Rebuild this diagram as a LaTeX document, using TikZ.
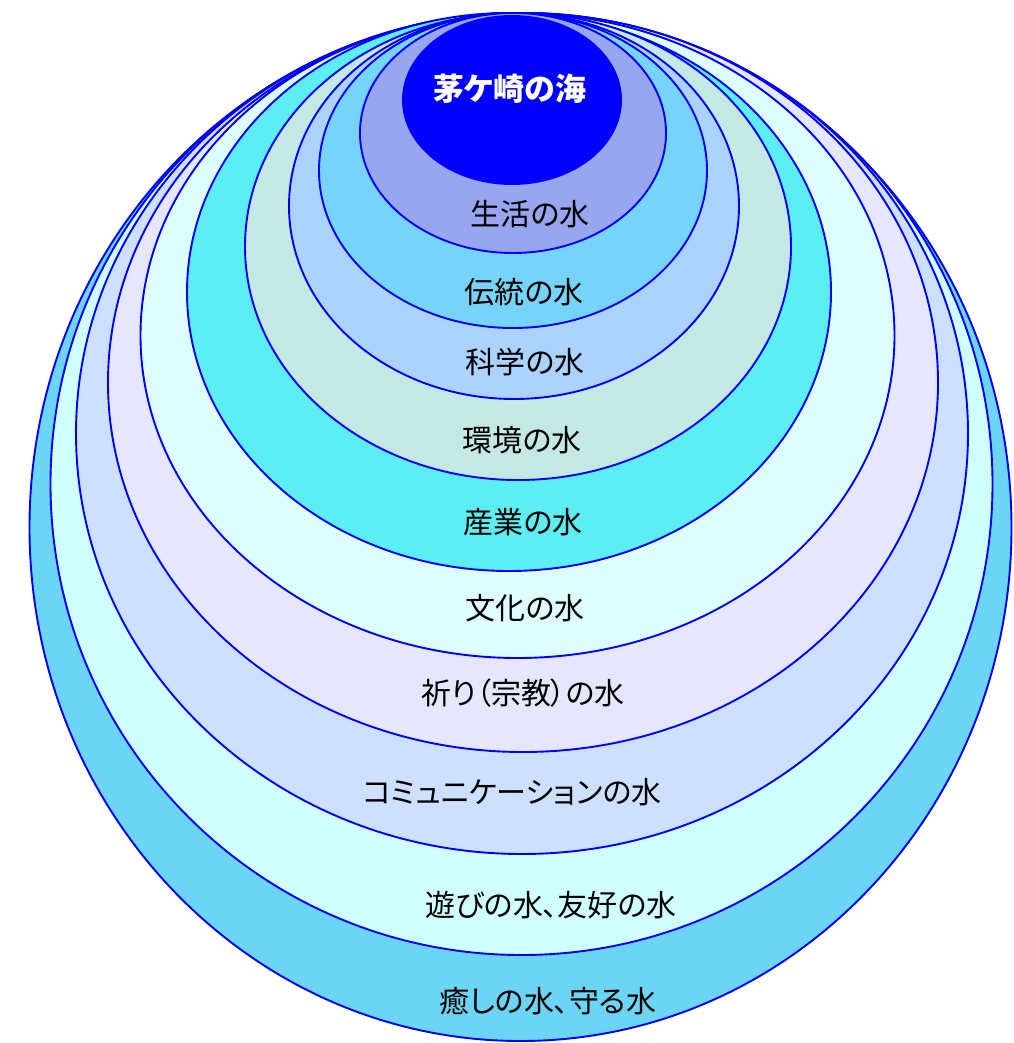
\documentclass[tikz,border=0pt]{standalone}
\usepackage{fontspec}
\newfontfamily\cjk[RawFeature=+palt]{Noto Sans CJK JP}
\definecolor{lineblue}{RGB}{0,0,250}
\definecolor{cSea}{RGB}{0,0,255}
\definecolor{cSeikatsu}{RGB}{152,166,240}
\definecolor{cDento}{RGB}{118,212,250}
\definecolor{cKagaku}{RGB}{172,210,255}
\definecolor{cKankyo}{RGB}{196,232,228}
\definecolor{cSangyo}{RGB}{92,238,242}
\definecolor{cBunka}{RGB}{222,254,254}
\definecolor{cInori}{RGB}{230,230,255}
\definecolor{cComm}{RGB}{205,224,255}
\definecolor{cAsobi}{RGB}{208,255,255}
\definecolor{cIyashi}{RGB}{108,212,245}
\tikzset{
  ring/.style={draw=lineblue, line width=1.9pt},
  lbl/.style={font=\cjk\fontsize{30}{32}\selectfont, text=black, inner sep=0pt},
  sealbl/.style={font=\cjk\bfseries\fontsize{31}{33}\selectfont, text=white, inner sep=0pt}
}
\begin{document}
\begin{tikzpicture}[x=1pt,y=-1pt]
\useasboundingbox (0,0) rectangle (1013,1043);
% outermost to innermost
\filldraw[ring, fill=cIyashi]   (520.5,527.5) ellipse [x radius=491, y radius=513.5];
\filldraw[ring, fill=cAsobi]    (521.5,484)   ellipse [x radius=471, y radius=471];
\filldraw[ring, fill=cComm]     (522,433.5)   ellipse [x radius=446, y radius=420.5];
\filldraw[ring, fill=cInori]    (523,382.5)   ellipse [x radius=415, y radius=369.5];
\filldraw[ring, fill=cBunka]    (517.5,335.5) ellipse [x radius=377, y radius=322.5];
\filldraw[ring, fill=cSangyo]   (509,292)     ellipse [x radius=322, y radius=279];
\filldraw[ring, fill=cKankyo]   (518,246.5)   ellipse [x radius=273, y radius=233.5];
\filldraw[ring, fill=cKagaku]   (514,206)     ellipse [x radius=225, y radius=193];
\filldraw[ring, fill=cDento]    (513,170.5)   ellipse [x radius=194, y radius=157.5];
\filldraw[ring, fill=cSeikatsu] (513,133)     ellipse [x radius=153, y radius=120];
\fill[cSea]                     (512,100)     ellipse [x radius=110, y radius=85];
% labels
\node[sealbl] (sea)  at (510,89)  {茅ケ崎の海};
\node[lbl] (l1)  at (530,214)  {生活の水};
\node[lbl] (l2)  at (524,292)  {伝統の水};
\node[lbl] (l3)  at (525,362)  {科学の水};
\node[lbl] (l4)  at (522,440)  {環境の水};
\node[lbl] (l5)  at (523,522)  {産業の水};
\node[lbl] (l6)  at (525,608)  {文化の水};
\node[lbl] (l7)  at (523,693)  {祈り（宗教）の水};
\node[lbl] (l8)  at (512,792)  {コミュニケーションの水};
\node[lbl] (l9)  at (551,905)  {遊びの水、友好の水};
\node[lbl] (l10) at (548,1001) {癒しの水、守る水};
\end{tikzpicture}
\end{document}
